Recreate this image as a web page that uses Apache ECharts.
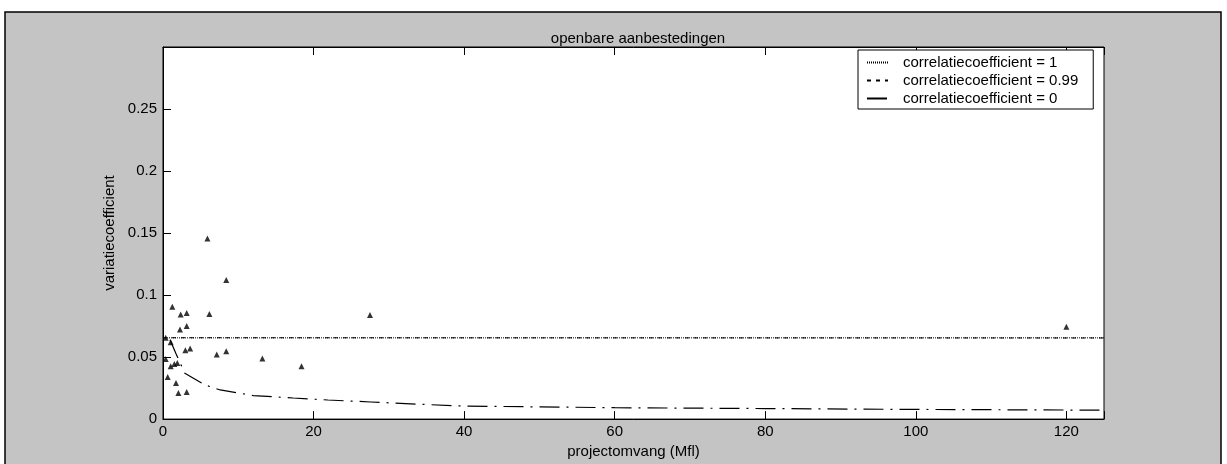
<!DOCTYPE html>
<html>
<head>
<meta charset="utf-8">
<script src="https://cdn.jsdelivr.net/npm/echarts@6/dist/echarts.min.js"></script>
<style>
html,body{margin:0;padding:0;background:#fff;}
#chart{width:1227px;height:464px;}
</style>
</head>
<body>
<div id="chart"></div>
<script>
// observed projects (projectomvang in Mfl, variatiecoefficient)
const pointX = [5.9, 8.4, 1.24, 2.35, 3.15, 6.16, 27.5, 2.26, 3.15, 0.36, 1.02, 2.97, 3.6, 7.14, 8.4, 13.2, 18.4, 0.36, 1.02, 1.5, 1.9, 0.62, 1.73, 2.04, 3.15, 120];
const pointY = [0.1456, 0.1122, 0.0906, 0.0844, 0.0855, 0.0847, 0.0839, 0.0723, 0.075, 0.0655, 0.062, 0.0556, 0.0569, 0.052, 0.0548, 0.0488, 0.0426, 0.0485, 0.0426, 0.0445, 0.0453, 0.034, 0.0291, 0.021, 0.0218, 0.0745];

// correlatiecoefficient = 1
const rho1X = [0, 125];
const rho1Y = [0.0655, 0.0655];
// correlatiecoefficient = 0.99
const rho099X = [0, 125];
const rho099Y = [0.0656, 0.0654];
// correlatiecoefficient = 0
const rho0X = [0.93, 1.73, 2.9, 5.6, 7.6, 12, 17.3, 21.9, 27.6, 34, 40, 60, 80, 100, 125];
const rho0Y = [0.064, 0.0526, 0.037, 0.0275, 0.0235, 0.019, 0.017, 0.0154, 0.0138, 0.012, 0.0105, 0.0092, 0.0085, 0.0078, 0.0072];

const xTicks = [0, 20, 40, 60, 80, 100, 120];
const yTicks = ['0', '0.05', '0.1', '0.15', '0.2', '0.25'];

const legendNames = ['correlatiecoefficient = 1', 'correlatiecoefficient = 0.99', 'correlatiecoefficient = 0'];

const zip = (a, b) => a.map((v, i) => [v, b[i]]);
const FONT = 'Liberation Sans, Arial, Helvetica, sans-serif';

const chart = echarts.init(document.getElementById('chart'), null, {renderer: 'canvas'});
chart.setOption({
  animation: false,
  backgroundColor: '#ffffff',
  textStyle: {fontFamily: FONT},
  graphic: [{
    type: 'rect', z: -100, silent: true,
    shape: {x: 5, y: 12, width: 1216, height: 470},
    style: {fill: '#c4c4c4', stroke: '#000', lineWidth: 1.5}
  }],
  title: {
    text: 'openbare aanbestedingen',
    left: 633, top: 26, textAlign: 'center',
    textStyle: {fontFamily: FONT, fontSize: 15, fontWeight: 'normal', color: '#000'}
  },
  legend: {
    data: legendNames,
    orient: 'vertical',
    left: 858, top: 50,
    backgroundColor: '#fff',
    borderColor: '#000', borderWidth: 1,
    padding: [5, 15, 3, 8],
    itemWidth: 21, itemHeight: 14, itemGap: 3,
    itemStyle: {color: 'rgba(0,0,0,0)', borderWidth: 0, borderColor: 'rgba(0,0,0,0)'},
    textStyle: {fontFamily: FONT, fontSize: 15, color: '#000', padding: [0, 0, 0, 10]}
  },
  grid: {
    left: 163, top: 47, width: 941, height: 374,
    show: true, backgroundColor: '#fff', borderColor: '#000', borderWidth: 1,
    containLabel: false
  },
  xAxis: [{
    type: 'value', min: 0, max: 125, interval: 20, position: 'bottom',
    name: 'projectomvang (Mfl)', nameLocation: 'middle', nameGap: 22,
    nameTextStyle: {fontFamily: FONT, fontSize: 15, color: '#000'},
    axisLine: {show: true, lineStyle: {color: '#000', width: 1}},
    axisTick: {show: true, inside: true, length: 8, lineStyle: {color: '#000'}},
    axisLabel: {color: '#000', fontSize: 15, fontFamily: FONT, margin: 5,
      formatter: v => xTicks.indexOf(v) >= 0 ? String(v) : ''},
    splitLine: {show: false}
  }, {
    type: 'value', min: 0, max: 125, interval: 20, position: 'top',
    axisLine: {show: true, lineStyle: {color: '#000', width: 1}},
    axisTick: {show: true, inside: true, length: 8, lineStyle: {color: '#000'}},
    axisLabel: {show: false},
    splitLine: {show: false}
  }],
  yAxis: {
    type: 'value', min: 0, max: 0.3, interval: 0.05,
    name: 'variatiecoefficient', nameLocation: 'middle', nameGap: 37,
    nameTextStyle: {fontFamily: FONT, fontSize: 15, color: '#000'},
    axisLine: {show: true, lineStyle: {color: '#000', width: 1}},
    axisTick: {show: true, inside: true, length: 8, lineStyle: {color: '#000'}},
    axisLabel: {color: '#000', fontSize: 15, fontFamily: FONT, margin: 6,
      formatter: v => { const s = String(+v.toFixed(2)); return yTicks.indexOf(s) >= 0 ? s : ''; }},
    splitLine: {show: false}
  },
  series: [{
    name: legendNames[0], type: 'line', symbol: 'none', xAxisIndex: 0, color: '#000',
    data: zip(rho1X, rho1Y),
    lineStyle: {color: '#000', width: 1, type: [1, 1]}
  }, {
    name: legendNames[1], type: 'line', symbol: 'none', xAxisIndex: 0, color: '#000',
    data: zip(rho099X, rho099Y),
    lineStyle: {color: '#000', width: 1, type: [4, 5]}
  }, {
    name: legendNames[2], type: 'line', symbol: 'none', xAxisIndex: 0, color: '#000',
    data: zip(rho0X, rho0Y),
    lineStyle: {color: '#000', width: 1.2, type: [20, 7, 2, 7]}
  }, {
    name: 'projecten', type: 'scatter', symbol: 'triangle', symbolSize: 6, xAxisIndex: 0,
    data: zip(pointX, pointY),
    itemStyle: {color: '#000'}
  }]
});
</script>
</body>
</html>
